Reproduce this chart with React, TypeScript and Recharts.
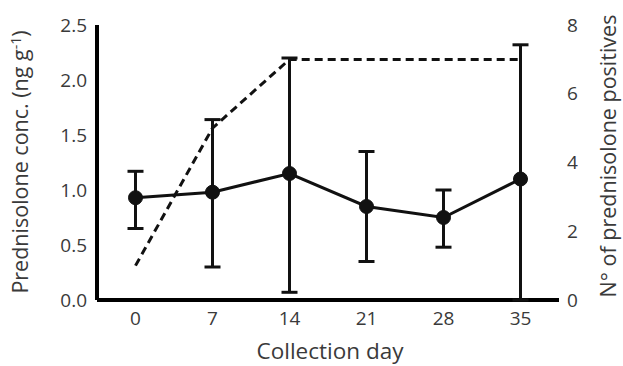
import * as React from 'react';
import { ComposedChart, Line, XAxis, YAxis, ErrorBar, ReferenceLine } from 'recharts';

// Collection days and measured values
const days = [0, 7, 14, 21, 28, 35];
const meanConc = [0.93, 0.98, 1.15, 0.85, 0.75, 1.1];
const errLow = [0.28, 0.68, 1.08, 0.5, 0.27, 1.1];
const errHigh = [0.24, 0.66, 1.05, 0.5, 0.25, 1.22];
const positives = [1, 5, 7, 7, 7, 7];

const leftTicks = [0, 0.5, 1, 1.5, 2, 2.5];
const rightTicks = [0, 2, 4, 6, 8];
const xDomain = [-3.5, 38.5];

const data = days.map((d, i) => ({
  day: d,
  conc: meanConc[i],
  err: [errLow[i], errHigh[i]],
  pos: positives[i],
}));

const FONT = '"Open Sans", sans-serif';
const TEXT = '#3a3a3a';
const INK = '#111';

export default function App() {
  const tick = { fontSize: 19, fill: TEXT, fontFamily: FONT };
  return (
    <div style={{ position: 'absolute', left: 0, top: 0, width: 623, height: 366, background: '#fff' }}>
      <ComposedChart
        width={623}
        height={366}
        data={data}
        margin={{ top: 25, right: 0, bottom: 0, left: 0 }}
      >
        <XAxis
          dataKey="day"
          type="number"
          domain={xDomain}
          ticks={days}
          tickLine={false}
          axisLine={false}
          tick={tick}
          tickMargin={6}
          height={66}
        />
        <YAxis
          yAxisId="left"
          domain={[0, 2.5]}
          ticks={leftTicks}
          tickFormatter={(v: number) => v.toFixed(1)}
          tickLine={false}
          axisLine={false}
          tick={tick}
          tickMargin={4}
          width={97}
        />
        <YAxis
          yAxisId="right"
          orientation="right"
          domain={[0, 8]}
          ticks={rightTicks}
          tickLine={false}
          axisLine={false}
          tick={tick}
          width={64}
        />
        {/* axis lines, drawn heavy like the original */}
        <ReferenceLine yAxisId="left" x={xDomain[0]} stroke="#000" strokeWidth={4} ifOverflow="visible" />
        <ReferenceLine yAxisId="left" y={0} stroke="#000" strokeWidth={4} ifOverflow="visible" />
        <Line
          yAxisId="right"
          dataKey="pos"
          stroke={INK}
          strokeWidth={3}
          strokeDasharray="8 5"
          dot={false}
          isAnimationActive={false}
        />
        <Line
          yAxisId="left"
          dataKey="conc"
          stroke={INK}
          strokeWidth={3}
          dot={{ r: 7, fill: INK, stroke: INK, strokeWidth: 1 }}
          isAnimationActive={false}
        >
          <ErrorBar dataKey="err" direction="y" width={8} stroke={INK} strokeWidth={3} />
        </Line>
      </ComposedChart>
      <svg
        width={623}
        height={366}
        style={{ position: 'absolute', left: 0, top: 0, pointerEvents: 'none' }}
      >
        <text
          x={0}
          y={0}
          transform="translate(28 162) rotate(-90)"
          textAnchor="middle"
          fontFamily={FONT}
          fontSize={21.5}
          fill={TEXT}
        >
          Prednisolone conc. (ng g
          <tspan dy={-7} fontSize={14}>-1</tspan>
          <tspan dy={7}>)</tspan>
        </text>
        <text
          x={0}
          y={0}
          transform="translate(616 156) rotate(-90)"
          textAnchor="middle"
          fontFamily={FONT}
          fontSize={21.5}
          fill={TEXT}
        >
          N° of prednisolone positives
        </text>
        <text
          x={330}
          y={359}
          textAnchor="middle"
          fontFamily={FONT}
          fontSize={22.5}
          fill={TEXT}
        >
          Collection day
        </text>
      </svg>
    </div>
  );
}
